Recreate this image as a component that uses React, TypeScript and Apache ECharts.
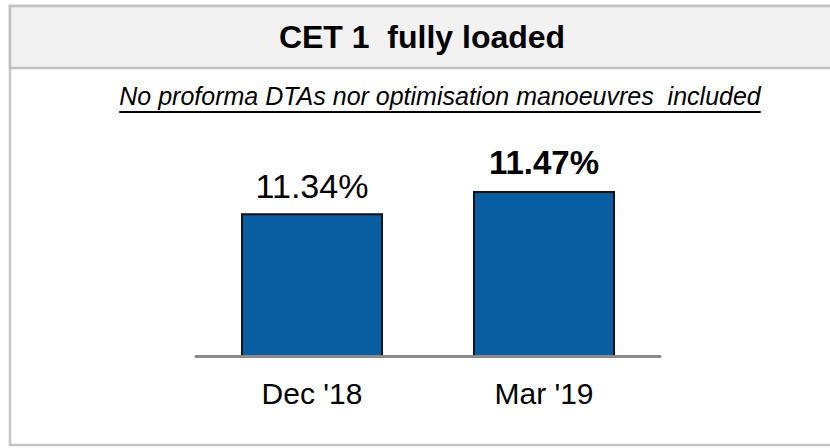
import React, { useEffect, useRef } from "react";
import * as echarts from "echarts";

const categories = ["Dec '18", "Mar '19"];
const values = [11.34, 11.47];
const valueLabels = ["11.34%", "11.47%"];
const boldFlags = [false, true];
const titleText = "CET 1  fully loaded";
const subtitleText = "No proforma DTAs nor optimisation manoeuvres  included";

const FONT = "'Liberation Sans', Arial, sans-serif";

export default function App() {
  const ref = useRef<HTMLDivElement>(null);
  useEffect(() => {
    document.body.style.margin = "0";
    if (!ref.current) return;
    const chart = echarts.init(ref.current, null, { renderer: "svg" });

    let subW = 647;
    try {
      const c = document.createElement("canvas").getContext("2d");
      if (c) {
        c.font = "italic 25px 'Liberation Sans'";
        subW = c.measureText(subtitleText).width;
      }
    } catch (e) {}
    const subCx = 440;

    chart.setOption({
      animation: false,
      backgroundColor: "#ffffff",
      grid: { left: 196, width: 464, top: 101, bottom: 92, containLabel: false },
      xAxis: {
        type: "category",
        data: categories,
        axisTick: { show: false },
        axisLine: { show: true, lineStyle: { color: "#8a8a8a", width: 3 } },
        axisLabel: { color: "#000", fontSize: 30, fontFamily: FONT, margin: 22 },
        z: 5,
      },
      yAxis: { type: "value", min: 10.5, max: 12, show: false, splitLine: { show: false } },
      series: [
        {
          type: "bar",
          barWidth: 142,
          data: values.map((v, i) => ({
            value: v,
            label: {
              show: true,
              position: "top",
              distance: boldFlags[i] ? 12 : 10,
              formatter: valueLabels[i],
              fontSize: boldFlags[i] ? 33 : 34,
              fontWeight: boldFlags[i] ? "bold" : "normal",
              color: "#000",
              fontFamily: FONT,
            },
          })),
          itemStyle: { color: "#085ea0", borderColor: "#111111", borderWidth: 2 },
        },
      ],
      graphic: [
        {
          type: "rect",
          shape: { x: 10, y: 6, width: 830, height: 439 },
          style: { fill: "none", stroke: "#c4c4c4", lineWidth: 2.5 },
          z: -10,
        },
        {
          type: "rect",
          shape: { x: 10, y: 6, width: 830, height: 62 },
          style: { fill: "#f2f2f2", stroke: "#c0c0c0", lineWidth: 2.5 },
          z: -9,
        },
        {
          type: "text",
          x: 422,
          y: 37,
          style: {
            text: titleText,
            font: `bold 32px ${FONT}`,
            fill: "#000",
            textAlign: "center",
            textVerticalAlign: "middle",
          },
        },
        {
          type: "text",
          x: subCx,
          y: 96,
          style: {
            text: subtitleText,
            font: `italic 25px ${FONT}`,
            fill: "#000",
            textAlign: "center",
            textVerticalAlign: "middle",
          },
        },
        {
          type: "line",
          shape: { x1: subCx - subW / 2, y1: 112, x2: subCx + subW / 2, y2: 112 },
          style: { stroke: "#000", lineWidth: 2 },
        },
      ],
    });
    return () => chart.dispose();
  }, []);
  return <div ref={ref} style={{ width: 830, height: 448 }} />;
}
